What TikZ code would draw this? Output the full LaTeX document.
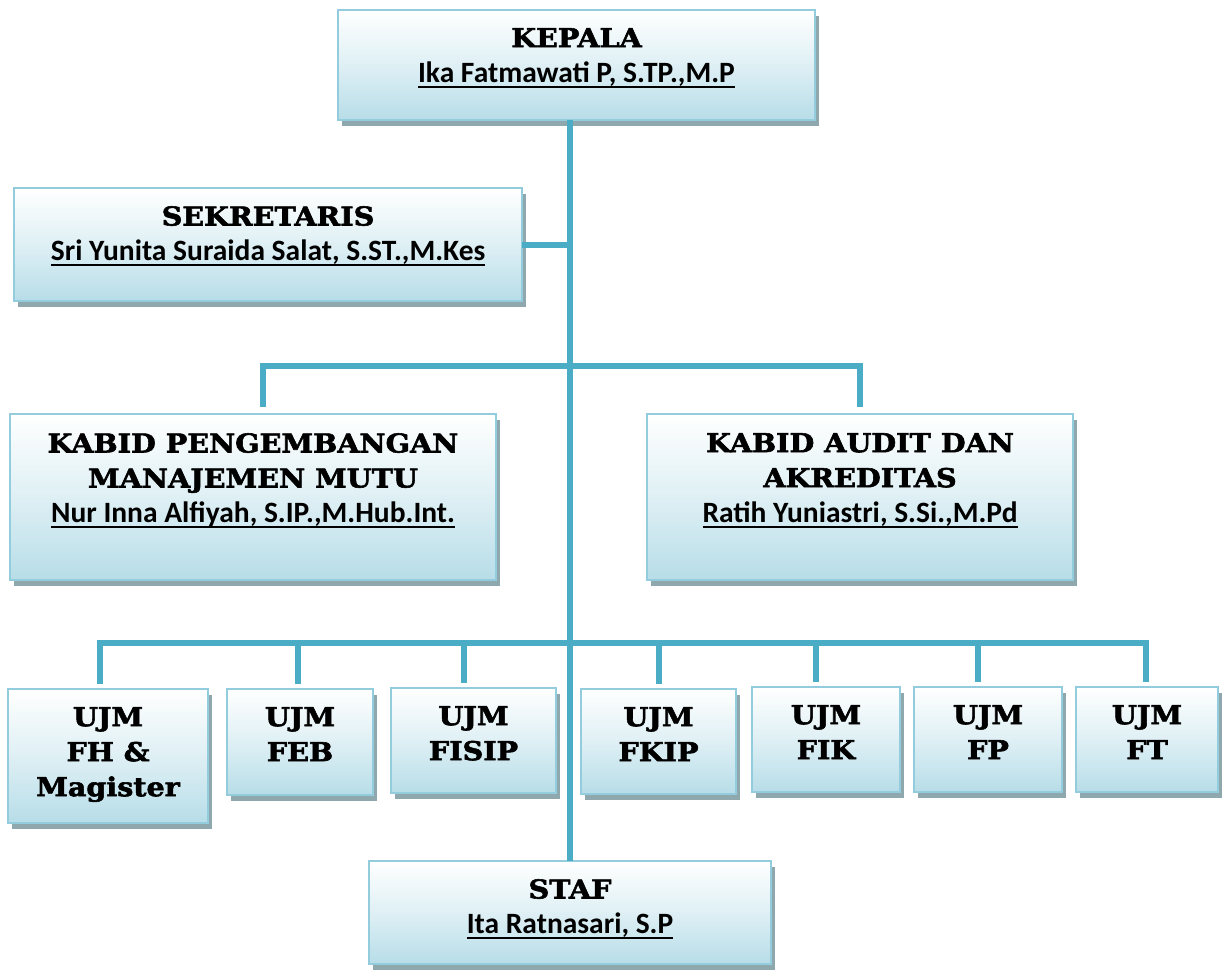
\documentclass[tikz,border=0pt]{standalone}
\usepackage{fontspec}
\usepackage{tikz}
\usetikzlibrary{shadows}
\usetikzlibrary{positioning}
\newfontfamily\judul[FakeStretch=1.10,FakeBold=2.2]{DejaVu Serif}
\newfontfamily\nama{Carlito}
\definecolor{tiecol}{HTML}{4BACC6}
\definecolor{boxline}{HTML}{93CDDD}
\definecolor{boxfill}{HTML}{B7DDE8}
\definecolor{shadowcol}{HTML}{8FA8AE}
\newcommand{\garis}[1]{\leavevmode\setbox0\hbox{#1}\rlap{\rule[-5.5pt]{\wd0}{2pt}}\box0}
\newcommand{\nm}[1]{{\nama\bfseries\fontsize{29.5}{35}\selectfont\garis{#1}}}
\tikzstyle{box}=[draw=boxline,line width=2.5pt,top color=white,bottom color=boxfill,
                middle color=white!55!boxfill,inner sep=0pt,outer sep=0pt,
                drop shadow={shadow xshift=4pt,shadow yshift=-6pt,fill=shadowcol,opacity=1}]
\tikzstyle{txt}=[inner sep=0pt,align=center,node distance=18pt,
                font=\judul\bfseries\fontsize{26}{35}\selectfont]
\tikzstyle{tie}=[draw=tiecol,line width=6pt]

\begin{document}
\begin{tikzpicture}[x=1pt,y=-1pt]
\useasboundingbox (0,0) rectangle (1222,971);
% boxes
\node[box,minimum width=477pt,minimum height=110pt] (kepala) at (576.5,65) {};
\node[box,minimum width=508pt,minimum height=113pt] (sekre) at (268,244.5) {};
\node[box,minimum width=486pt,minimum height=166pt] (pmm) at (253,497) {};
\node[box,minimum width=426pt,minimum height=166pt] (audit) at (860,497) {};
\node[box,minimum width=200pt,minimum height=134pt] (u1) at (108,756) {};
\node[box,minimum width=146pt,minimum height=106pt] (u2) at (300,742) {};
\node[box,minimum width=165pt,minimum height=105pt] (u3) at (473.5,740.5) {};
\node[box,minimum width=155pt,minimum height=105pt] (u4) at (658.5,741.5) {};
\node[box,minimum width=148pt,minimum height=105pt] (u5) at (826,739.5) {};
\node[box,minimum width=148pt,minimum height=105pt] (u6) at (988,739.5) {};
\node[box,minimum width=142pt,minimum height=105pt] (u7) at (1147,739.5) {};
\node[box,minimum width=402pt,minimum height=103pt] (staf) at (570,912.5) {};
% texts
\node[txt,below=of kepala.north] (kepalatxt) {KEPALA\\\nm{Ika Fatmawati P, S.TP.,M.P}};
\node[txt,below=of sekre.north] (sekretxt) {SEKRETARIS\\\nm{Sri Yunita Suraida Salat, S.ST.,M.Kes}};
\node[txt,below=19pt of pmm.north] (pmmtxt) {KABID PENGEMBANGAN\\MANAJEMEN MUTU\\\nm{Nur Inna Alfiyah, S.IP.,M.Hub.Int.}};
\node[txt,below=19pt of audit.north] (audittxt) {KABID AUDIT DAN\\AKREDITAS\\\nm{Ratih Yuniastri, S.Si.,M.Pd}};
\node[txt,below=of u1.north] (u1txt) {UJM\\FH \&\\Magister};
\node[txt,below=of u2.north] (u2txt) {UJM\\FEB};
\node[txt,below=of u3.north] (u3txt) {UJM\\FISIP};
\node[txt,below=of u4.north] (u4txt) {UJM\\FKIP};
\node[txt,below=of u5.north] (u5txt) {UJM\\FIK};
\node[txt,below=of u6.north] (u6txt) {UJM\\FP};
\node[txt,below=of u7.north] (u7txt) {UJM\\FT};
\node[txt,below=of staf.north] (staftxt) {STAF\\\nm{Ita Ratnasari, S.P}};
% connectors
\coordinate (spine) at (570,0);
\coordinate (busa) at (570,366);
\coordinate (busb) at (570,643);
\draw[tie] (kepala.south -| spine) -- (staf.north);
\draw[tie] (sekre.east) -- (sekre.east -| spine);
\draw[tie,shorten <=7pt,shorten >=7pt] ([xshift=10pt]pmm.north) |- (busa) -| (audit.north);
\draw[tie,shorten <=5pt,shorten >=5pt] ([xshift=-8pt]u1.north) |- (busb) -| ([xshift=-1pt]u7.north);
\foreach \u/\dx in {u2/-2,u3/-9.5,u4/0.5,u5/-10,u6/-10}
  \draw[tie,shorten >=5pt] ([xshift=\dx pt]\u.north |- busb) -- ([xshift=\dx pt]\u.north);
\end{tikzpicture}
\end{document}
